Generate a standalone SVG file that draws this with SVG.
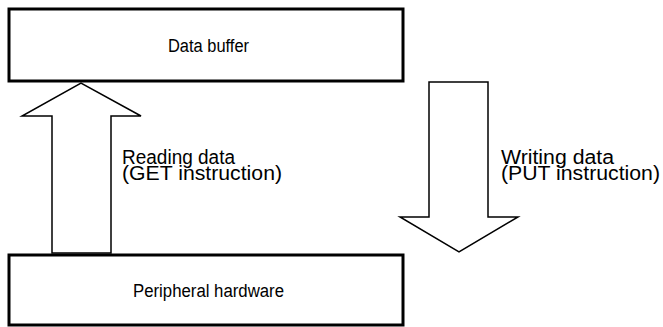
<svg xmlns="http://www.w3.org/2000/svg" width="663" height="327" viewBox="0 0 663 327">
<style>
.box{fill:#fff;stroke:#000;stroke-width:3}
.arrow{fill:#fff;stroke:#000;stroke-width:1.5;stroke-linejoin:miter}
.t{font-family:"Liberation Sans",Arial,sans-serif;font-size:18px;fill:#000}
.l{font-family:"Liberation Sans",Arial,sans-serif;font-size:20px;fill:#000}
</style>
<rect width="663" height="327" fill="#fff"/>
<g id="connectors">
<polygon class="arrow" points="52,253 52,116 22,116 81,83 141,116 111,116 111,253"/>
<polygon class="arrow" points="429,82 429,217 400,217 459,252 518,217 488,217 488,82"/>
</g>
<g id="data-buffer">
<rect class="box" x="9" y="9" width="394" height="72"/>
<text class="t" x="168" y="52" textLength="81" lengthAdjust="spacingAndGlyphs">Data buffer</text>
</g>
<g id="peripheral-hardware">
<rect class="box" x="9" y="255" width="394" height="70"/>
<text class="t" x="133" y="297" textLength="151" lengthAdjust="spacingAndGlyphs">Peripheral hardware</text>
</g>
<g id="label-read">
<text class="l" x="122" y="164" textLength="113" lengthAdjust="spacingAndGlyphs">Reading data</text>
<text class="l" x="122" y="180" textLength="160" lengthAdjust="spacingAndGlyphs">(GET instruction)</text>
</g>
<g id="label-write">
<text class="l" x="501" y="164" textLength="113" lengthAdjust="spacingAndGlyphs">Writing data</text>
<text class="l" x="501" y="180" textLength="159" lengthAdjust="spacingAndGlyphs">(PUT instruction)</text>
</g>
</svg>
